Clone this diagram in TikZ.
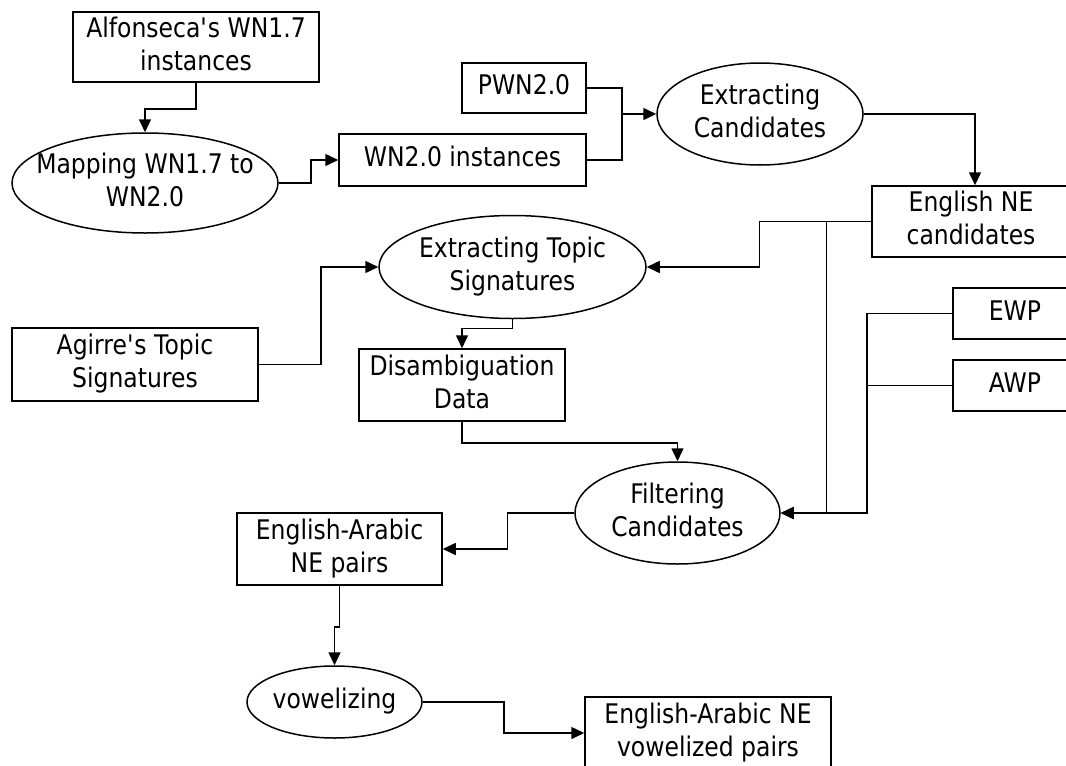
\documentclass[tikz,border=0pt]{standalone}
\usepackage{fontspec}
\setmainfont{DejaVu Sans}[FakeStretch=0.87]
\usetikzlibrary{shapes.geometric,arrows.meta,calc}
\newcommand{\tl}[1]{\makebox[0pt]{\begin{tabular}{@{}c@{}}#1\end{tabular}}}
\begin{document}
\begin{tikzpicture}[x=1pt,y=-1pt,
  every node/.style={inner sep=0pt, font=\fontsize{27}{33}\selectfont},
  box/.style={draw, rectangle, line width=1.5pt},
  proc/.style={draw, ellipse, line width=1.5pt},
  arr/.style={-{Triangle[length=13pt,width=12pt]}, line width=1.5pt},
  con/.style={line width=1.5pt}]
\useasboundingbox (0,0) rectangle (1066,766);
% nodes
\node[box, minimum width=246, minimum height=70] (alf) at (196,47) {\tl{Alfonseca\textquotesingle s WN1.7\\instances}};
\node[proc, minimum width=266, minimum height=100] (map) at (145,183) {\tl{Mapping WN1.7 to\\WN2.0}};
\node[box, minimum width=124, minimum height=50] (pwn) at (524,88) {\tl{PWN2.0}};
\node[box, minimum width=247, minimum height=52] (wn2) at (462.5,160) {\tl{WN2.0 instances}};
\node[proc, minimum width=206, minimum height=102] (ec) at (760,114) {\tl{Extracting\\Candidates}};
\node[box, minimum width=198, minimum height=71] (ene) at (971,221.5) {\tl{English NE\\candidates}};
\node[proc, minimum width=267, minimum height=103] (ets) at (512.5,267) {\tl{Extracting Topic\\Signatures}};
\node[box, minimum width=246, minimum height=73] (agi) at (135,364.5) {\tl{Agirre\textquotesingle s Topic\\Signatures}};
\node[box, minimum width=206, minimum height=72] (dis) at (462,385) {\tl{Disambiguation\\Data}};
\node[box, minimum width=124, minimum height=51] (ewp) at (1015,313.5) {\tl{EWP}};
\node[box, minimum width=124, minimum height=51] (awp) at (1015,385.5) {\tl{AWP}};
\node[proc, minimum width=205, minimum height=102] (fil) at (677.5,513) {\tl{Filtering\\Candidates}};
\node[box, minimum width=205, minimum height=72] (eap) at (339.5,549) {\tl{English-Arabic\\NE pairs}};
\node[proc, minimum width=175, minimum height=72] (vow) at (334.5,702) {\tl{vowelizing}};
\node[box, minimum width=246, minimum height=72] (evp) at (708,733) {\tl{English-Arabic NE\\vowelized pairs}};
% junctions
\coordinate (j1) at (622,114);
\coordinate (j3) at (867,513);
% connectors
\draw[arr] (alf.south) -- ++(0,26) -| (map.north);
\draw[arr] (map.east) -- ++(32,0) |- (wn2.west);
\draw[con] (pwn.east) -| (j1);
\draw[con] (wn2.east) -| (j1);
\draw[arr] (j1) -- (ec.west);
\draw[arr] (ec.east) -| ($(ene.north)+(4,0)$);
\draw[arr] (ene.west) -- ++(-112,0) |- (ets.east);
\draw[arr] (ene.west) ++(-45,0) |- (fil.east);
\draw[arr] (ewp.west) -| (j3) -- (fil.east);
\draw[con] (awp.west) -- (awp.west -| j3);
\draw[arr] (agi.east) -- ++(62,0) |- (ets.west);
\draw[arr] (ets.south) -- ++(0,9) -| (dis.north);
\draw[arr] (dis.south) -- ++(0,21) -| (fil.north);
\draw[arr] (fil.west) -- ++(-67,0) |- (eap.east);
\draw[arr] (eap.south) -- ++(0,41) -| (vow.north);
\draw[arr] (vow.east) -- ++(81,0) |- (evp.west);
\end{tikzpicture}
\end{document}
